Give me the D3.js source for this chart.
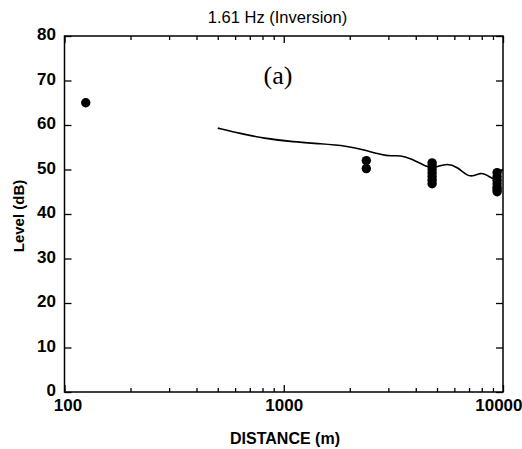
<!DOCTYPE html>
<html><head><meta charset="utf-8">
<script src="https://cdn.jsdelivr.net/npm/d3@7"></script>
<style>body{margin:0;background:#fff}svg{display:block}text{font-family:"Liberation Sans",Arial,sans-serif}</style>
</head><body>
<script>
const title = "1.61 Hz (Inversion)";
const xTickLabels = [100, 1000, 10000];
const yTickLabels = [0, 10, 20, 30, 40, 50, 60, 70, 80];
// measured points
const pointDist = [125, 2380, 2380, 4750, 4750, 4750, 4750, 4750, 4750, 4750, 9400, 9400, 9400, 9400, 9400, 9400, 9400];
const pointLevel = [65, 52.0, 50.2, 51.5, 50.8, 50.0, 49.2, 48.4, 47.6, 46.8, 49.3, 48.4, 47.6, 46.8, 46.0, 45.5, 45.0];
// model curve
const lineDist = [500, 633, 809, 1109, 1468, 1944, 2314, 2806, 3063, 3404, 3780, 4350, 4666, 5010, 5560, 6180, 6870, 7360, 7890, 8470, 9080, 9570, 9800, 10000];
const lineLevel = [59.3, 58.1, 57.0, 56.2, 55.8, 55.3, 54.4, 53.3, 53.0, 53.2, 52.5, 51.0, 50.3, 50.6, 51.4, 50.6, 48.5, 48.5, 49.3, 48.8, 47.6, 48.4, 49.8, 50.0];

const W = 522, H = 449;
const m = {l: 64.5, r: 503, t: 36, b: 392};
const svg = d3.select("body").append("svg").attr("width", W).attr("height", H);
const x = d3.scaleLog().domain([100, 10000]).range([m.l, m.r]);
const y = d3.scaleLinear().domain([0, 80]).range([m.b, m.t]);

const minor = [];
for (let d = 100; d < 10000; d *= 10) for (let k = 2; k <= 9; k++) minor.push(d * k);

const g = svg.append("g");
g.append("rect").attr("x", m.l).attr("y", m.t).attr("width", m.r - m.l).attr("height", m.b - m.t)
  .attr("fill", "none").attr("stroke", "#000").attr("stroke-width", 1.5);

function styleAxis(sel) {
  sel.select(".domain").remove();
  sel.selectAll(".tick line").attr("stroke", "#000").attr("stroke-width", 1.3);
}
const bx = g.append("g").attr("transform", `translate(0,${m.b})`)
  .call(d3.axisBottom(x).tickValues(xTickLabels).tickSize(-7).tickFormat(d3.format("d")));
styleAxis(bx);
bx.selectAll("text").attr("y", 19).attr("dy", null).attr("font-size", 17).attr("font-weight", "bold").attr("fill", "#000")
  .attr("text-anchor", (d, i) => i === 2 ? "end" : "middle")
  .attr("dx", (d, i) => i === 2 ? 19 : (i === 0 ? 3 : 0));
styleAxis(g.append("g").attr("transform", `translate(0,${m.b})`)
  .call(d3.axisBottom(x).tickValues(minor).tickSize(-4).tickFormat("")));
styleAxis(g.append("g").attr("transform", `translate(0,${m.t})`)
  .call(d3.axisTop(x).tickValues(xTickLabels).tickSize(-7).tickFormat("")));
styleAxis(g.append("g").attr("transform", `translate(0,${m.t})`)
  .call(d3.axisTop(x).tickValues(minor).tickSize(-4).tickFormat("")));
const ly = g.append("g").attr("transform", `translate(${m.l},0)`)
  .call(d3.axisLeft(y).tickValues(yTickLabels).tickSize(-7));
styleAxis(ly);
ly.selectAll("text").attr("x", -8.5).attr("y", -1.5).attr("font-size", 17).attr("font-weight", "bold").attr("fill", "#000");
styleAxis(g.append("g").attr("transform", `translate(${m.r},0)`)
  .call(d3.axisRight(y).tickValues(yTickLabels).tickSize(-7).tickFormat("")));

const line = d3.line().x((d, i) => x(lineDist[i])).y((d, i) => y(lineLevel[i])).curve(d3.curveBasis);
g.append("path").datum(lineDist).attr("d", line).attr("fill", "none").attr("stroke", "#000").attr("stroke-width", 1.6);

g.selectAll("circle.pt").data(pointDist).join("circle").attr("class", "pt")
  .attr("cx", d => x(d)).attr("cy", (d, i) => y(pointLevel[i])).attr("r", 4.7).attr("fill", "#000");

svg.append("text").attr("x", 277.5).attr("y", 23).attr("text-anchor", "middle")
  .attr("font-size", 16.5).text(title);
svg.append("text").attr("x", 278).attr("y", 84).attr("text-anchor", "middle")
  .style("font-family", "'Liberation Serif', 'Times New Roman', serif")
  .attr("font-size", 26).text("(a)");
svg.append("text").attr("x", 285).attr("y", 444).attr("text-anchor", "middle")
  .attr("font-size", 16).attr("font-weight", "bold").text("DISTANCE (m)");
svg.append("text").attr("transform", `translate(24,${(m.t + m.b) / 2 + 2}) rotate(-90)`).attr("text-anchor", "middle")
  .attr("font-size", 15).attr("font-weight", "bold").text("Level (dB)");
</script>
</body></html>
